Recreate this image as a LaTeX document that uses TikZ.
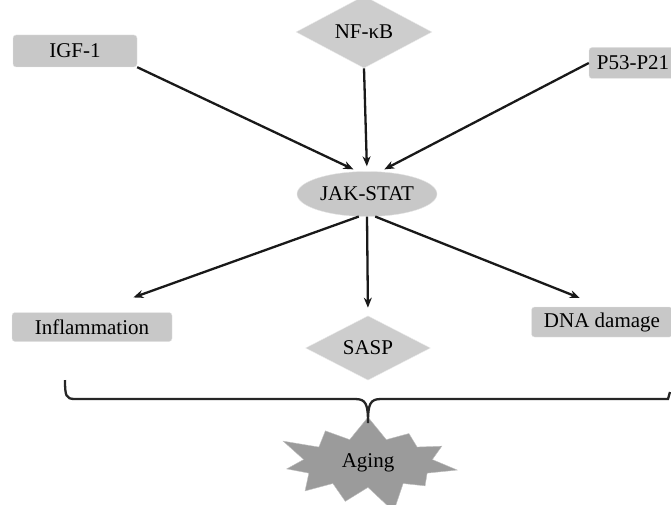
\documentclass[tikz,border=0pt]{standalone}
\usepackage{fontspec}
\setmainfont{Liberation Serif}
\usetikzlibrary{shapes.geometric,shapes.symbols,arrows.meta}
\definecolor{boxgrey}{RGB}{200,200,200}
\definecolor{burstgrey}{RGB}{155,155,155}
\tikzset{
	greybox/.style={rectangle, rounded corners=3pt, fill=boxgrey, draw=black!10, text=black, inner sep=0pt, font=\fontsize{21}{24}\selectfont},
	greydiamond/.style={diamond, fill=boxgrey!90, draw=black!8, text=black, inner sep=0pt, font=\fontsize{21}{24}\selectfont},
	greyellipse/.style={ellipse, fill=boxgrey, draw=black!10, text=black, inner sep=0pt, font=\fontsize{21}{24}\selectfont},
	burstnode/.style={starburst, starburst points=11, starburst point height=30pt, fill=burstgrey, draw=black!25, text=black, inner xsep=16pt, inner ysep=8pt, font=\fontsize{21}{24}\selectfont},
	arr/.style={line width=2.3pt, black!90, -{Stealth[length=10pt,width=8pt]}},
	bracelin/.style={line width=2.3pt, black!85}
}
\begin{document}
\begin{tikzpicture}[x=1pt,y=-1pt]
	\useasboundingbox (0,0) rectangle (671,505);
	% inputs
	\node[greybox, minimum width=124pt, minimum height=32pt] (igf) at (75,51) {IGF-1};
	\node[greydiamond, minimum width=136pt, minimum height=50pt] (nfkb) at (364,32) {NF-κB};
	\node[greybox, minimum width=88pt, minimum height=31pt] (p53) at (633,63) {P53-P21};
	% pathway
	\node[greyellipse, minimum width=140pt, minimum height=45pt] (jak) at (367,194) {JAK-STAT};
	% outputs
	\node[greybox, minimum width=160pt, minimum height=29pt] (infl) at (92,327) {Inflammation};
	\node[greydiamond, minimum width=125pt, minimum height=49pt] (sasp) at (368,348) {SASP};
	\node[greybox, minimum width=141pt, minimum height=30pt] (dna) at (602,322) {DNA damage};
	\node[burstnode, minimum width=190pt, minimum height=84pt] (aging) at (368,463) {Aging};

	\draw[arr, shorten >=5pt] (igf.south east) -- (jak.112);
	\draw[arr, shorten >=5pt] (nfkb.south) -- (jak.90);
	\draw[arr, shorten >=5pt] (p53.west) -- (jak.60);
	\draw[arr, shorten >=44pt] (jak.-110) -- (infl.north);
	\draw[arr, shorten >=8pt] (jak.-90) -- (sasp.north);
	\draw[arr, shorten >=24pt] (jak.-70) -- (dna.north);

	% brace
	\draw[bracelin] (65,380) .. controls (65,396) and (66,399) .. (75,399) -- (355,399) .. controls (366,399) and (368,404) .. (368,423) .. controls (368,404) and (370,399) .. (381,399) -- (668,399) -- (670,392);
\end{tikzpicture}
\end{document}
